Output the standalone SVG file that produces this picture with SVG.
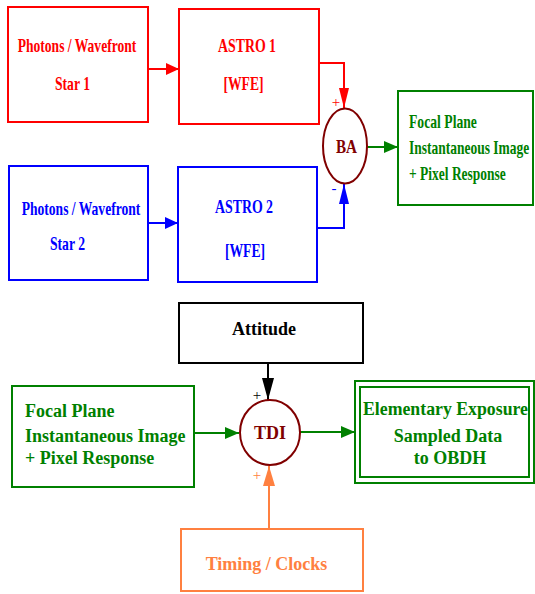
<svg xmlns="http://www.w3.org/2000/svg" width="535" height="594" viewBox="0 0 535 594">
<style>
text{font-family:'Liberation Serif','Times New Roman',serif;font-weight:bold;font-size:18px}
.box{fill:none;stroke-width:2}
.c{text-anchor:middle}
.red{fill:#ff0000}.blue{fill:#0000ff}.green{fill:#008000}.dred{fill:#800000}.orange{fill:#ff8040}.black{fill:#000}
.sred{stroke:#ff0000}.sblue{stroke:#0000ff}.sgreen{stroke:#008000}.sdred{stroke:#800000}.sorange{stroke:#ff8040}.sblack{stroke:#000}
.line{fill:none;stroke-width:2}
text.sign{font-weight:normal;font-size:15px}
</style>
<defs>
<marker id="aRed" markerUnits="userSpaceOnUse" markerWidth="14" markerHeight="12" refX="13" refY="6" orient="auto"><path d="M0,0 L13,6 L0,12 z" fill="#ff0000"/></marker>
<marker id="aRedL" markerUnits="userSpaceOnUse" markerWidth="21" markerHeight="10" refX="20" refY="5" orient="auto"><path d="M0,0 L20,5 L0,10 z" fill="#ff0000"/></marker>
<marker id="aBlue" markerUnits="userSpaceOnUse" markerWidth="14" markerHeight="12" refX="13" refY="6" orient="auto"><path d="M0,0 L13,6 L0,12 z" fill="#0000ff"/></marker>
<marker id="aBlueL" markerUnits="userSpaceOnUse" markerWidth="21" markerHeight="10" refX="20" refY="5" orient="auto"><path d="M0,0 L20,5 L0,10 z" fill="#0000ff"/></marker>
<marker id="aGreen" markerUnits="userSpaceOnUse" markerWidth="15" markerHeight="12" refX="14" refY="6" orient="auto"><path d="M0,0 L14,6 L0,12 z" fill="#008000"/></marker>
<marker id="aBlackL" markerUnits="userSpaceOnUse" markerWidth="23" markerHeight="12" refX="22" refY="6" orient="auto"><path d="M0,0 L22,6 L0,12 z" fill="#000"/></marker>
<marker id="aOrangeL" markerUnits="userSpaceOnUse" markerWidth="21" markerHeight="12" refX="20" refY="6" orient="auto"><path d="M0,0 L20,6 L0,12 z" fill="#ff8040"/></marker>
</defs>
<rect width="535" height="594" fill="#fff"/>

<g id="connectors">
<line class="line sred" x1="148" y1="69" x2="179" y2="69" marker-end="url(#aRed)"/>
<polyline class="line sred" points="319,63 344,63 344,108" marker-end="url(#aRedL)"/>
<line class="line sblue" x1="148" y1="223" x2="178" y2="223" marker-end="url(#aBlue)"/>
<polyline class="line sblue" points="317,228 344,228 344,184" marker-end="url(#aBlueL)"/>
<line class="line sgreen" x1="367" y1="147" x2="398" y2="147" marker-end="url(#aGreen)"/>
<line class="line sblack" x1="268" y1="363" x2="268" y2="400" marker-end="url(#aBlackL)"/>
<line class="line sgreen" x1="194" y1="433" x2="239" y2="433" marker-end="url(#aGreen)"/>
<line class="line sgreen" x1="300" y1="432" x2="355" y2="432" marker-end="url(#aGreen)"/>
<line class="line sorange" x1="269" y1="529" x2="269" y2="466" marker-end="url(#aOrangeL)"/>
<text class="sign red" x="336" y="107" text-anchor="middle">+</text>
<text class="sign blue" x="334" y="193" text-anchor="middle">-</text>
<text class="sign black" x="257" y="400" text-anchor="middle">+</text>
<text class="sign orange" x="257" y="480" text-anchor="middle">+</text>
</g>

<g id="star1">
<rect class="box sred" x="8" y="7" width="140" height="115"/>
<text class="red c" transform="translate(77,52) scale(0.755,1)">Photons / Wavefront</text>
<text class="red c" transform="translate(72.5,90) scale(0.76,1)">Star 1</text>
</g>

<g id="astro1">
<rect class="box sred" x="179" y="9" width="140" height="115"/>
<text class="red c" transform="translate(247,52) scale(0.77,1)">ASTRO 1</text>
<text class="red c" transform="translate(243.5,90) scale(0.76,1)">[WFE]</text>
</g>

<g id="star2">
<rect class="box sblue" x="9" y="166" width="139" height="114"/>
<text class="blue c" transform="translate(81,215) scale(0.755,1)">Photons / Wavefront</text>
<text class="blue c" transform="translate(67.5,250) scale(0.76,1)">Star 2</text>
</g>

<g id="astro2">
<rect class="box sblue" x="178" y="167" width="139" height="115"/>
<text class="blue c" transform="translate(244,213) scale(0.77,1)">ASTRO 2</text>
<text class="blue c" transform="translate(245,257) scale(0.76,1)">[WFE]</text>
</g>

<g id="ba">
<ellipse class="line sdred" cx="345" cy="146" rx="22" ry="37.5"/>
<text class="dred c" transform="translate(346.5,153) scale(0.84,1)">BA</text>
</g>

<g id="focal1">
<rect class="box sgreen" x="398" y="91" width="135" height="114"/>
<text class="green" transform="translate(409,128) scale(0.76,1)">Focal Plane</text>
<text class="green" transform="translate(409,154) scale(0.75,1)">Instantaneous Image</text>
<text class="green" transform="translate(409,180) scale(0.75,1)">+ Pixel Response</text>
</g>

<g id="attitude">
<rect class="box sblack" x="179" y="303" width="184" height="60"/>
<text class="black c" x="264" y="335">Attitude</text>
</g>

<g id="focal2">
<rect class="box sgreen" x="12" y="386" width="182" height="101"/>
<text class="green" x="25" y="417">Focal Plane</text>
<text class="green" x="25" y="442">Instantaneous Image</text>
<text class="green" x="25" y="464">+ Pixel Response</text>
</g>

<g id="tdi">
<ellipse class="line sdred" cx="270" cy="432.5" rx="30" ry="32.5"/>
<text class="dred c" x="270" y="439">TDI</text>
</g>

<g id="exposure">
<rect class="box sgreen" x="355" y="381" width="179" height="102"/>
<rect class="box sgreen" x="360" y="387" width="169" height="90"/>
<text class="green c" x="445.5" y="415" textLength="165" lengthAdjust="spacingAndGlyphs">Elementary Exposure</text>
<text class="green c" x="448" y="442">Sampled Data</text>
<text class="green c" x="450" y="464">to OBDH</text>
</g>

<g id="timing">
<rect class="box sorange" x="181" y="529" width="182" height="62"/>
<text class="orange c" x="266.5" y="570">Timing / Clocks</text>
</g>
</svg>
